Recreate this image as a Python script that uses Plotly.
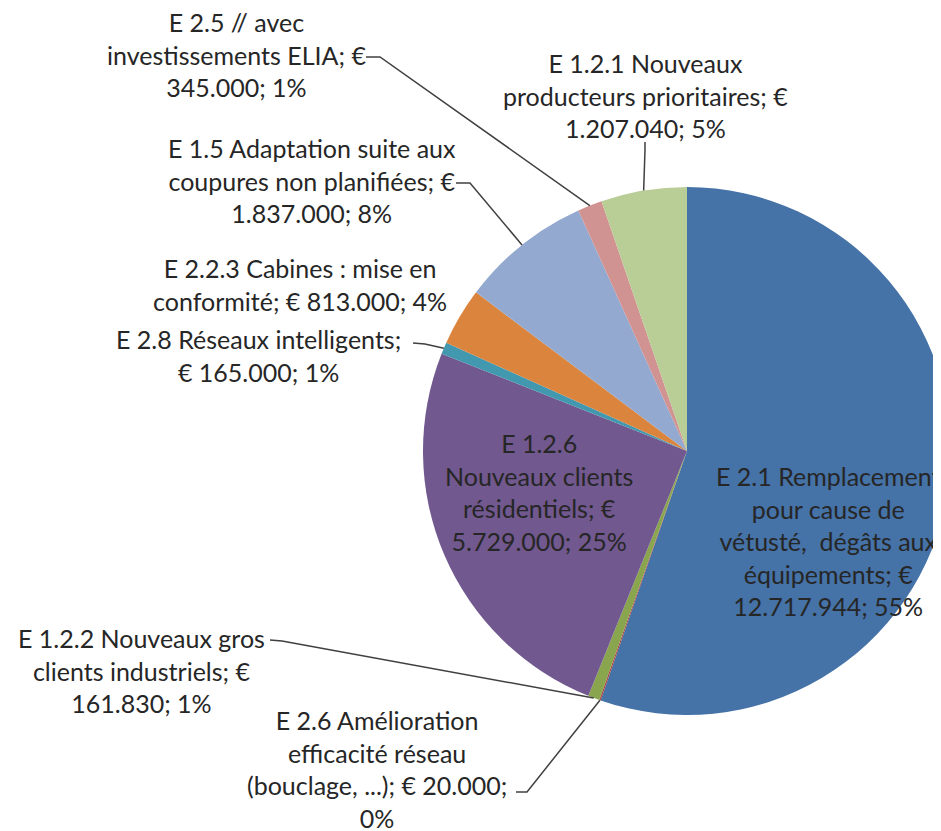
import math
import plotly.graph_objects as go

# ---------------- data ----------------
codes = ["E 2.1", "E 2.6", "E 1.2.2", "E 1.2.6", "E 2.8", "E 2.2.3", "E 1.5", "E 2.5", "E 1.2.1"]
values = [12717944, 20000, 161830, 5729000, 165000, 813000, 1837000, 345000, 1207040]
label_texts = [
    "E 2.1 Remplacement<br>pour cause de<br>vétusté,  dégâts aux<br>équipements; €<br>12.717.944; 55%",
    "E 2.6 Amélioration<br>efficacité réseau<br>(bouclage, ...); € 20.000;<br>0%",
    "E 1.2.2 Nouveaux gros<br>clients industriels; €<br>161.830; 1%",
    "E 1.2.6<br>Nouveaux clients<br>résidentiels; €<br>5.729.000; 25%",
    "E 2.8 Réseaux intelligents;<br>€ 165.000; 1%",
    "E 2.2.3 Cabines : mise en<br>conformité; € 813.000; 4%",
    "E 1.5 Adaptation suite aux<br>coupures non planifiées; €<br>1.837.000; 8%",
    "E 2.5 // avec<br>investissements ELIA; €<br>345.000; 1%",
    "E 1.2.1 Nouveaux<br>producteurs prioritaires; €<br>1.207.040; 5%",
]
colors = ["#4572A7", "#AA4643", "#89A54E", "#71588F", "#4198AF",
          "#DB843D", "#93A9CF", "#D19392", "#B9CD96"]

# ---------------- layout geometry (screen pixels) ----------------
OFF = 8                      # page body margin
W, H = 960, 831              # figure size (right part clipped by window)
CX, CY, R = 687, 451, 264    # pie centre / radius on screen

def px(x):
    return (x - OFF) / W

def py(y):
    return 1 - (y - OFF) / H

label_pos = {
    "E 2.1": (828, 541),
    "E 2.6": (377, 769),
    "E 1.2.2": (141, 670),
    "E 1.2.6": (539, 492),
    "E 2.8": (258, 356),
    "E 2.2.3": (300, 284),
    "E 1.5": (312, 180),
    "E 2.5": (236, 55),
    "E 1.2.1": (645, 95),
}
leaders = {
    "E 2.6": [(516, 792), (527, 792)],
    "E 1.2.2": [(270, 640), (282, 641)],
    "E 2.8": [(413, 343), (425, 344)],
    "E 1.5": [(456, 183), (470, 183)],
    "E 2.5": [(366, 57), (380, 57)],
    "E 1.2.1": [(645, 142), (645, 150)],
}

total = sum(values)
cum = 0
mid_angle = {}
for c, v in zip(codes, values):
    mid_angle[c] = (cum + v / 2) / total * 2 * math.pi
    cum += v

fig = go.Figure(go.Pie(
    labels=codes,
    values=values,
    sort=False,
    direction="clockwise",
    rotation=0,
    marker=dict(colors=colors, line=dict(width=0)),
    textinfo="none",
    hoverinfo="label+value+percent",
    showlegend=False,
    domain=dict(x=[px(CX - R), px(CX + R)], y=[py(CY + R), py(CY - R)]),
))

annotations = []
for c, t in zip(codes, label_texts):
    x, y = label_pos[c]
    annotations.append(dict(
        x=px(x), y=py(y), xref="paper", yref="paper", text=t, showarrow=False,
        xanchor="center", yanchor="middle", align="center",
        font=dict(family="Lato, 'Open Sans', sans-serif", size=25, color="#262626"),
    ))

shapes = []
for c, pts in leaders.items():
    a = mid_angle[c]
    ax = CX + R * math.sin(a)
    ay = CY - R * math.cos(a)
    path_pts = pts + [(ax, ay)]
    d = "M " + " L ".join(f"{px(x):.5f},{py(y):.5f}" for x, y in path_pts)
    shapes.append(dict(type="path", path=d, xref="paper", yref="paper",
                       line=dict(color="#404040", width=1.5)))

fig.update_layout(
    width=W, height=H,
    margin=dict(l=0, r=0, t=0, b=0),
    paper_bgcolor="white", plot_bgcolor="white",
    annotations=annotations, shapes=shapes,
)

fig.write_html("out.html")
